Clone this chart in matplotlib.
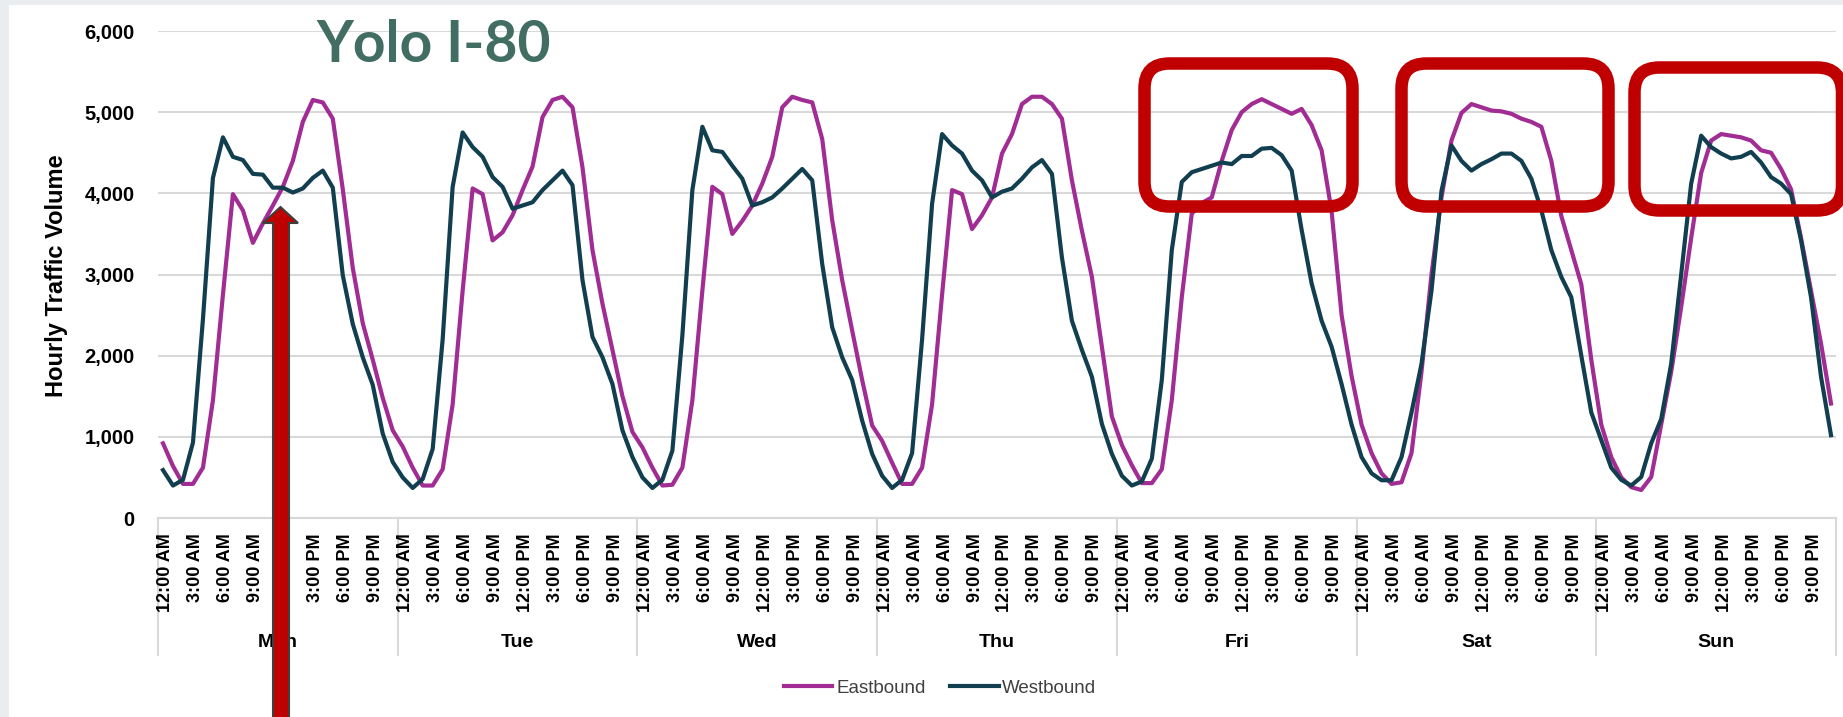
import numpy as np
import matplotlib.pyplot as plt
from matplotlib.patches import FancyBboxPatch, Polygon, Rectangle
from matplotlib.transforms import blended_transform_factory, ScaledTranslation

plt.rcParams['font.family'] = ['Liberation Sans', 'DejaVu Sans']

days = ['Mon', 'Tue', 'Wed', 'Thu', 'Fri', 'Sat', 'Sun']
hour_labels = ['12:00 AM', '3:00 AM', '6:00 AM', '9:00 AM',
               '12:00 PM', '3:00 PM', '6:00 PM', '9:00 PM']

# hourly volumes, 12 AM .. 11 PM
eb_mon = [920, 640, 420, 420, 620, 1450, 2750, 3990, 3790, 3390, 3630, 3850,
          4080, 4400, 4880, 5150, 5120, 4920, 4050, 3080, 2400, 1950, 1480, 1080]
eb_tue = [880, 620, 400, 400, 600, 1400, 2800, 4060, 3990, 3420, 3520, 3730,
          4040, 4330, 4940, 5150, 5190, 5060, 4320, 3300, 2640, 2070, 1500, 1060]
eb_wed = [870, 620, 400, 410, 620, 1450, 2800, 4080, 3990, 3500, 3660, 3850,
          4120, 4450, 5060, 5190, 5150, 5120, 4670, 3670, 2930, 2310, 1700, 1140]
eb_thu = [950, 680, 420, 420, 620, 1400, 2750, 4040, 3990, 3560, 3730, 3950,
          4490, 4730, 5100, 5190, 5190, 5100, 4920, 4160, 3540, 2970, 2110, 1250]
eb_fri = [900, 650, 430, 430, 600, 1450, 2720, 3750, 3880, 3950, 4400, 4780,
          5000, 5100, 5160, 5100, 5040, 4980, 5040, 4840, 4530, 3780, 2500, 1750]
eb_sat = [1150, 800, 550, 420, 440, 800, 1800, 3000, 3950, 4650, 4990, 5100,
          5060, 5020, 5010, 4980, 4920, 4880, 4820, 4400, 3720, 3300, 2880, 1950]
eb_sun = [1150, 750, 500, 380, 345, 505, 1150, 1800, 2600, 3450, 4250, 4650,
          4730, 4710, 4690, 4650, 4530, 4500, 4300, 4050, 3450, 2800, 2150, 1410]

wb_mon = [590, 400, 470, 930, 2450, 4190, 4690, 4450, 4410, 4240, 4230, 4070,
          4070, 4010, 4060, 4190, 4280, 4070, 2990, 2390, 1980, 1640, 1040, 690]
wb_tue = [500, 370, 480, 850, 2200, 4080, 4750, 4570, 4450, 4200, 4080, 3810,
          3850, 3890, 4040, 4160, 4280, 4100, 2930, 2230, 1980, 1650, 1080, 750]
wb_wed = [500, 370, 470, 830, 2250, 4040, 4820, 4530, 4510, 4340, 4180, 3850,
          3890, 3950, 4060, 4180, 4300, 4160, 3130, 2350, 1980, 1700, 1200, 790]
wb_thu = [520, 370, 470, 800, 2200, 3870, 4730, 4590, 4490, 4280, 4160, 3950,
          4020, 4060, 4180, 4320, 4410, 4240, 3210, 2430, 2070, 1740, 1160, 790]
wb_fri = [520, 400, 450, 730, 1700, 3300, 4140, 4260, 4300, 4340, 4380, 4360,
          4460, 4460, 4550, 4560, 4470, 4280, 3550, 2890, 2430, 2110, 1650, 1150]
wb_sat = [750, 550, 465, 465, 750, 1300, 1900, 2800, 4030, 4590, 4400, 4280,
          4360, 4420, 4490, 4490, 4400, 4180, 3790, 3300, 2970, 2720, 2000, 1300]
wb_sun = [960, 620, 470, 400, 505, 920, 1220, 1900, 3000, 4120, 4710, 4570,
          4490, 4430, 4450, 4510, 4380, 4200, 4120, 3990, 3420, 2720, 1740, 1020]

eastbound = np.concatenate([eb_mon, eb_tue, eb_wed, eb_thu, eb_fri, eb_sat, eb_sun])
westbound = np.concatenate([wb_mon, wb_tue, wb_wed, wb_thu, wb_fri, wb_sat, wb_sun])
x = np.arange(len(eastbound))

W, H = 1843, 717
fig = plt.figure(figsize=(W / 100, H / 100), dpi=100)
fig.patch.set_facecolor('white')

# slide background peeking out at left / top
fig.add_artist(Rectangle((0, 0), 9 / W, 1, transform=fig.transFigure,
                         facecolor='#E9EDF0', edgecolor='none', zorder=-2))
fig.add_artist(Rectangle((0, 1 - 5 / H), 1, 5 / H, transform=fig.transFigure,
                         facecolor='#E9EDF0', edgecolor='none', zorder=-2))

ax = fig.add_axes([158 / W, 1 - 518 / H, (1836 - 158) / W, (518 - 31) / H])
ax.set_facecolor('none')

ax.plot(x, eastbound, color='#A12C94', lw=3.0, solid_joinstyle='round',
        label='Eastbound', zorder=3)
ax.plot(x, westbound, color='#113F50', lw=3.0, solid_joinstyle='round',
        label='Westbound', zorder=3)

ax.set_xlim(-0.5, len(x) - 0.5)
ax.set_ylim(0, 6000)
ax.set_yticks(range(0, 6001, 1000))
ax.set_yticklabels([f'{v:,}' for v in range(0, 6001, 1000)])
ax.grid(axis='y', color='#D9D9D9', lw=1.5)
ax.set_axisbelow(True)
for s in ['top', 'right', 'left']:
    ax.spines[s].set_visible(False)
ax.spines['bottom'].set_color('#D9D9D9')
ax.spines['bottom'].set_linewidth(1.5)

ax.set_xticks(x[::3])
ax.set_xticklabels(hour_labels * len(days), rotation=90, fontweight='bold',
                   fontsize=13)
ax.tick_params(axis='x', length=0, pad=11)
ax.tick_params(axis='y', length=0, pad=17, labelsize=14.5)
for lab in ax.get_yticklabels():
    lab.set_fontweight('bold')
# nudge the hour labels a little right, clear of the day separators
shift = ScaledTranslation(3 / 100, 0, fig.dpi_scale_trans)
for lab in ax.get_xticklabels():
    lab.set_transform(lab.get_transform() + shift)

# day grouping below the hour labels
tr = blended_transform_factory(ax.transData, ax.transAxes)
for d in range(len(days) + 1):
    ax.plot([d * 24 - 0.5] * 2, [0, -0.281], transform=tr, color='#D9D9D9',
            lw=1.5, clip_on=False, zorder=0.3)
for d, name in enumerate(days):
    ax.text(d * 24 + 11.5, -0.255, name, transform=tr, ha='center',
            va='center', fontweight='bold', fontsize=14)

fig.text(56 / W, 1 - 276 / H, 'Hourly Traffic Volume', rotation=90,
         ha='center', va='center', fontsize=17, fontweight='bold')

fig.text(316 / W, 1 - 62 / H, 'Yolo I-80', fontsize=41, fontweight='bold',
         color='#416D62', family='Lato', ha='left', va='baseline')

fig.legend(loc='center', bbox_to_anchor=(940 / W, 1 - 688 / H), ncol=2,
           frameon=False, fontsize=13.5, handlelength=2.6, handletextpad=0.2,
           columnspacing=1.3, labelcolor='#404040')

# annotations, placed in image pixels (inches at 100 dpi)
def px(xp, yp):
    return (xp / 100, (H - yp) / 100)

arrow = Polygon([px(273, 730), px(273, 223), px(263, 223), px(280.5, 207),
                 px(298, 223), px(289, 223), px(289, 730)], closed=True,
                transform=fig.dpi_scale_trans, facecolor='#C00000',
                edgecolor='#3F3F3F', lw=1.5, zorder=5)
fig.add_artist(arrow)

boxes = [(1144.5, 63.5, 1352.5, 206.5),
         (1401.5, 63.5, 1608.5, 206.5),
         (1634.5, 67.5, 1842.0, 210.5)]
for x0, y0, x1, y1 in boxes:
    bx, by = px(x0, y1)
    fig.add_artist(FancyBboxPatch((bx, by), (x1 - x0) / 100, (y1 - y0) / 100,
                                  boxstyle='round,pad=0,rounding_size=0.25',
                                  transform=fig.dpi_scale_trans, fill=False,
                                  edgecolor='#C00000', lw=9, zorder=5))

fig.savefig('out.png', dpi=100)
